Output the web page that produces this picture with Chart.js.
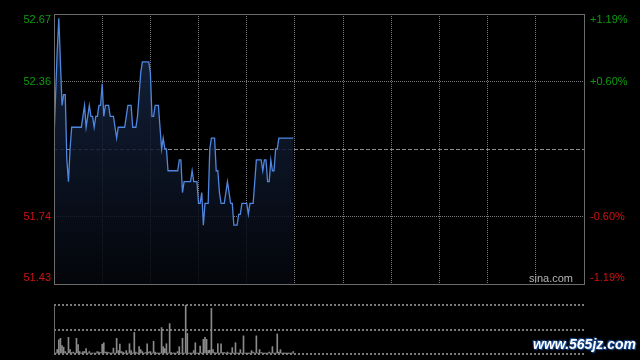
<!DOCTYPE html>
<html>
<head>
<meta charset="utf-8">
<script src="https://cdn.jsdelivr.net/npm/chart.js@4.4.1/dist/chart.umd.min.js"></script>
<style>
  html, body { margin: 0; padding: 0; background: #000; width: 640px; height: 360px; overflow: hidden; }
  #wrap { position: relative; width: 640px; height: 360px; background: #000; }
  #priceCanvas { position: absolute; left: 0; top: 0; }
  #volCanvas { position: absolute; left: 0; top: 296px; }
  #wm { position: absolute; left: 533px; top: 336px; font: italic bold 14px "Liberation Sans", Arial, sans-serif;
        color: #fff; text-shadow: 0 0 2px #1a4f9a, 1px 1px 1px #1a4f9a, -1px -1px 1px #1a4f9a; letter-spacing: 0px; }
</style>
</head>
<body>
<div id="wrap">
  <canvas id="priceCanvas" width="640" height="300"></canvas>
  <canvas id="volCanvas" width="640" height="64"></canvas>
  <div id="wm">www.565jz.com</div>
</div>
<script>
// ---- Data ----
const sessionMinutes = 330;              // HK session: 9:30-12:00, 13:00-16:00
const gridMinutes = [0, 30, 60, 90, 120, 150, 180, 210, 240, 270, 300, 330];
const basePrice = 52.05;                 // previous close
const priceTicks = [51.43, 51.74, 52.05, 52.36, 52.67];
const prices = [
  52.10, 52.30, 52.50, 52.65, 52.45, 52.25, 52.30, 52.30, 52.00, 51.90,
  52.05, 52.15, 52.15, 52.15, 52.15, 52.15, 52.15, 52.15, 52.20, 52.25,
  52.15, 52.20, 52.25, 52.20, 52.20, 52.15, 52.20, 52.20, 52.25, 52.25,
  52.35, 52.20, 52.25, 52.25, 52.25, 52.20, 52.20, 52.20, 52.15, 52.10,
  52.15, 52.15, 52.15, 52.15, 52.15, 52.20, 52.25, 52.25, 52.25, 52.15,
  52.15, 52.15, 52.20, 52.30, 52.40, 52.45, 52.45, 52.45, 52.45, 52.45,
  52.40, 52.20, 52.20, 52.25, 52.25, 52.25, 52.15, 52.05, 52.10, 52.05,
  52.05, 51.95, 51.95, 51.95, 51.95, 51.95, 51.95, 51.95, 52.00, 52.00,
  51.85, 51.90, 51.90, 51.90, 51.90, 51.90, 51.95, 51.90, 51.90, 51.90,
  51.80, 51.80, 51.85, 51.70, 51.80, 51.80, 51.80, 52.05, 52.10, 52.10,
  52.10, 51.95, 51.95, 51.85, 51.80, 51.80, 51.80, 51.85, 51.90, 51.85,
  51.80, 51.80, 51.70, 51.70, 51.70, 51.75, 51.75, 51.80, 51.80, 51.80,
  51.80, 51.75, 51.80, 51.80, 51.80, 51.90, 52.00, 52.00, 52.00, 52.00,
  51.95, 52.00, 52.00, 51.90, 51.90, 52.00, 51.95, 51.95, 52.05, 52.05,
  52.10, 52.10, 52.10, 52.10, 52.10, 52.10, 52.10, 52.10, 52.10, 52.10
];
// volume, relative units (panel top = 100)
const volumes = [
  40, 1, 9, 29, 32, 17, 14, 5, 1, 34,
  9, 3, 4, 1, 32, 19, 5, 1, 5, 5,
  11, 1, 5, 2, 1, 2, 1, 5, 4, 3,
  20, 23, 4, 4, 3, 1, 1, 12, 1, 32,
  7, 20, 5, 4, 1, 7, 1, 21, 7, 1,
  44, 4, 1, 15, 9, 5, 1, 3, 21, 4,
  5, 1, 26, 4, 1, 1, 1, 54, 15, 11,
  21, 1, 62, 3, 1, 1, 1, 5, 15, 1,
  32, 1, 100, 42, 1, 1, 1, 7, 23, 1,
  1, 16, 1, 30, 34, 30, 7, 8, 93, 9,
  3, 1, 21, 1, 21, 3, 3, 1, 4, 1,
  1, 13, 1, 23, 1, 1, 9, 1, 37, 1,
  1, 1, 1, 7, 4, 1, 37, 1, 9, 3,
  1, 1, 1, 1, 4, 1, 15, 1, 1, 41,
  4, 9, 1, 1, 1, 1, 1, 1, 1, 5
];

const GREEN = '#0f9b0f';
const RED = '#d01212';
const GRID = '#7a7a7a';
const FRAME = '#6c6c6c';
const FONT = '11px "Liberation Sans", Arial, sans-serif';

const frameAndLabels = {
  id: 'frameAndLabels',
  beforeDatasetsDraw(chart) {
    const ctx = chart.ctx, ca = chart.chartArea, ys = chart.scales.y;
    const yb = Math.round(ys.getPixelForValue(basePrice)) + 0.5;
    ctx.save();
    ctx.strokeStyle = '#8c8c8c';
    ctx.lineWidth = 1;
    ctx.setLineDash([4, 2]);
    ctx.beginPath(); ctx.moveTo(ca.left, yb); ctx.lineTo(ca.right, yb); ctx.stroke();
    ctx.restore();
  },
  afterDraw(chart) {
    const ctx = chart.ctx, ca = chart.chartArea, ys = chart.scales.y;
    ctx.save();
    ctx.strokeStyle = FRAME;
    ctx.lineWidth = 1;
    ctx.strokeRect(Math.round(ca.left) + 0.5, Math.round(ca.top) + 0.5,
                   Math.round(ca.right - ca.left), Math.round(ca.bottom - ca.top));
    ctx.font = FONT;
    ctx.textBaseline = 'middle';
    priceTicks.forEach(v => {
      if (v === basePrice) return;
      let y = ys.getPixelForValue(v);
      y = Math.min(Math.max(y, ca.top + 6), ca.bottom - 6);
      ctx.fillStyle = v > basePrice ? GREEN : RED;
      ctx.textAlign = 'right';
      ctx.fillText(v.toFixed(2), ca.left - 3, y);
      const pct = (v - basePrice) / basePrice * 100;
      ctx.textAlign = 'left';
      ctx.fillText((pct > 0 ? '+' : '') + pct.toFixed(2) + '%', ca.right + 6, y);
    });
    ctx.fillStyle = '#b4b4b4';
    ctx.textAlign = 'right';
    ctx.textBaseline = 'middle';
    ctx.fillText('sina.com', ca.right - 11, ca.bottom - 5);
    ctx.restore();
  }
};

new Chart(document.getElementById('priceCanvas'), {
  type: 'line',
  data: {
    datasets: [{
      data: prices.map((p, i) => ({ x: i, y: p })),
      borderColor: '#4f86df',
      borderWidth: 1.3,
      pointRadius: 0,
      tension: 0,
      fill: 'start',
      backgroundColor: (c) => {
        const ca = c.chart.chartArea;
        if (!ca) return 'rgba(20,35,60,0.6)';
        const g = c.chart.ctx.createLinearGradient(0, ca.top, 0, ca.bottom);
        g.addColorStop(0, 'rgba(24,42,74,0.85)');
        g.addColorStop(1, 'rgba(4,6,12,0.85)');
        return g;
      }
    }]
  },
  options: {
    responsive: false, animation: false, devicePixelRatio: 1,
    layout: { padding: { top: 14, bottom: 16, left: 0, right: 56 } },
    plugins: { legend: { display: false }, tooltip: { enabled: false } },
    scales: {
      x: {
        type: 'linear', min: 0, max: sessionMinutes,
        afterBuildTicks: (s) => { s.ticks = gridMinutes.map(v => ({ value: v })); },
        afterFit: (s) => { s.height = 0; },
        ticks: { display: false },
        grid: { color: GRID, drawTicks: false },
        border: { display: false, dash: [1, 1] }
      },
      y: {
        min: priceTicks[0], max: priceTicks[priceTicks.length - 1],
        afterBuildTicks: (s) => { s.ticks = priceTicks.map(v => ({ value: v })); },
        afterFit: (s) => { s.width = 54; },
        ticks: { display: false },
        grid: { color: (c) => (c.tick && c.tick.value === basePrice) ? 'rgba(0,0,0,0)' : GRID, drawTicks: false },
        border: { display: false, dash: [1, 1] }
      }
    }
  },
  plugins: [frameAndLabels]
});

const volFrame = {
  id: 'volFrame',
  afterDraw(chart) {
    const ctx = chart.ctx, ca = chart.chartArea;
    ctx.save();
    ctx.strokeStyle = FRAME;
    ctx.lineWidth = 1;
    ctx.beginPath();
    ctx.moveTo(Math.round(ca.left) + 0.5, ca.top);
    ctx.lineTo(Math.round(ca.left) + 0.5, ca.bottom);
    ctx.stroke();
    ctx.restore();
  }
};

new Chart(document.getElementById('volCanvas'), {
  type: 'bar',
  data: {
    datasets: [{
      data: volumes.map((v, i) => ({ x: i, y: v })),
      backgroundColor: '#8a8a8a',
      barThickness: 1,
      borderWidth: 0
    }]
  },
  options: {
    responsive: false, animation: false, devicePixelRatio: 1,
    layout: { padding: { top: 9, bottom: 6, left: 0, right: 56 } },
    plugins: { legend: { display: false }, tooltip: { enabled: false } },
    scales: {
      x: { type: 'linear', min: 0, max: sessionMinutes, display: false, offset: false },
      y: {
        min: 0, max: 100,
        afterBuildTicks: (s) => { s.ticks = [0, 50, 100].map(v => ({ value: v })); },
        afterFit: (s) => { s.width = 54; },
        ticks: { display: false },
        grid: { color: GRID, drawTicks: false, lineWidth: 2 },
        border: { display: false, dash: [2, 2] }
      }
    }
  },
  plugins: [volFrame]
});
</script>
</body>
</html>
